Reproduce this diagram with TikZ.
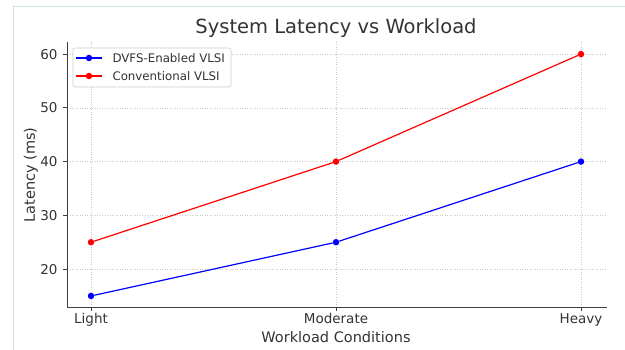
\documentclass[tikz,border=0pt]{standalone}
\usepackage{fontspec}
\setmainfont{DejaVu Sans}
\usetikzlibrary{calc}

\tikzset{
  gridline/.style={black!22, line width=0.5pt, dotted},
  spine/.style={black!75, line width=0.8pt},
  dvfsline/.style={blue, line width=1.2pt},
  convline/.style={red, line width=1.2pt},
  ptmark/.style={circle, fill, inner sep=0pt, minimum size=6.5pt},
  ticklabel/.style={font=\fontsize{13.5}{15}\selectfont, text=black!80},
  axislabel/.style={font=\fontsize{14.5}{16}\selectfont, text=black!80},
  legendtext/.style={font=\fontsize{11.8}{13}\selectfont, text=black!80, anchor=west},
}

\begin{document}
\begin{tikzpicture}[x=1pt, y=-1pt]
		%%%%% START %%%%%
		
		\useasboundingbox (0, 0) rectangle (625, 350);
		\draw[green!40!black!18, line width=0.8pt] (13, 350) -- (13, 6) -- (625, 6);
		
		\node[font=\fontsize{19.5}{22}\selectfont, text=black!80] (title) at (336, 28) {System Latency vs Workload};
		
		% grid
		\foreach \v in {20, 30, 40, 50, 60}
			\draw[gridline] (67, {376.6 - 5.375*\v}) -- (607, {376.6 - 5.375*\v});
		\foreach \x in {91, 336, 581}
			\draw[gridline] (\x, 42) -- (\x, 307);
		
		% axes
		\draw[spine] (67, 42) -- (67, 307) -- (607, 307);
		\foreach \v in {20, 30, 40, 50, 60} {
			\draw[spine] (63, {376.6 - 5.375*\v}) -- (67, {376.6 - 5.375*\v});
			\node[ticklabel, anchor=east] (y\v) at (61, {376.6 - 5.375*\v}) {\v};
		}
		\foreach \x/\t in {91/Light, 336/Moderate, 581/Heavy} {
			\draw[spine] (\x, 307) -- (\x, 311);
			\node[ticklabel, anchor=base] (x\t) at (\x, 324) {\t};
		}
		\node[axislabel, anchor=base] (xlab) at (336, 343) {Workload Conditions};
		\node[axislabel, rotate=90] (ylab) at (31, 175) {Latency (ms)};
		
		% data
		\node[ptmark, blue] (d1) at (91, {376.6 - 5.375*15}) {};
		\node[ptmark, blue] (d2) at (336, {376.6 - 5.375*25}) {};
		\node[ptmark, blue] (d3) at (581, {376.6 - 5.375*40}) {};
		\node[ptmark, red] (c1) at (91, {376.6 - 5.375*25}) {};
		\node[ptmark, red] (c2) at (336, {376.6 - 5.375*40}) {};
		\node[ptmark, red] (c3) at (581, {376.6 - 5.375*60}) {};
		\draw[dvfsline] (d1) -- (d2) -- (d3);
		\draw[convline] (c1) -- (c2) -- (c3);
		
		% legend
		\draw[black!20, fill=white, line width=0.6pt, rounded corners=2pt] (73, 48) rectangle (231, 87);
		\coordinate (la1) at (76, 58);
		\coordinate (lb1) at (102, 58);
		\coordinate (la2) at (76, 76);
		\coordinate (lb2) at (102, 76);
		\draw[dvfsline] (la1) -- (lb1);
		\draw[convline] (la2) -- (lb2);
		\node[ptmark, blue] (lm1) at ($(la1)!0.5!(lb1)$) {};
		\node[ptmark, red] (lm2) at ($(la2)!0.5!(lb2)$) {};
		\node[legendtext] (lt1) at (109, 58) {DVFS-Enabled VLSI};
		\node[legendtext] (lt2) at (109, 76) {Conventional VLSI};
		
		%%%%% END %%%%%
\end{tikzpicture}
\end{document}
